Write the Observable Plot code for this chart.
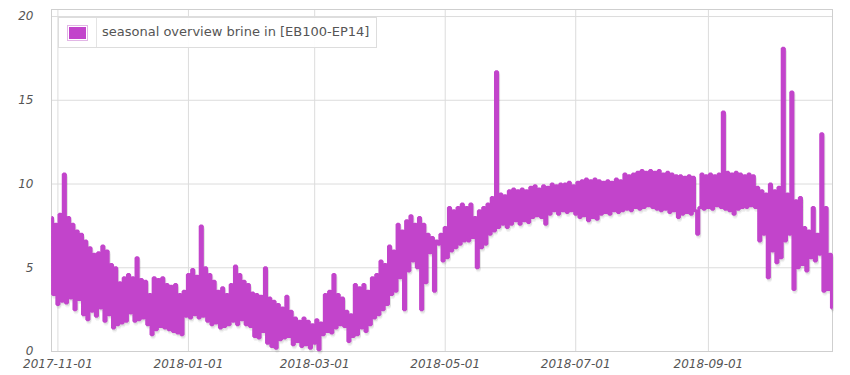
<!DOCTYPE html>
<html><head><meta charset="utf-8">
<script src="https://cdn.jsdelivr.net/npm/d3@7"></script>
<script src="https://cdn.jsdelivr.net/npm/@observablehq/plot@0.6"></script>
<style>
body{margin:0;background:#fff;}
#wrap{position:relative;width:850px;height:375px;}
#legend{position:absolute;left:58px;top:17px;width:319px;height:31px;border:1px solid #ddd;background:rgba(255,255,255,0.92);box-sizing:border-box;font-family:"DejaVu Sans",Verdana,sans-serif;font-size:13px;color:#555;}
#legend .sw{position:absolute;left:8px;top:7px;width:21px;height:16px;border:1px solid #e2b6e6;box-sizing:border-box;padding:1px;}
#legend .sw div{width:100%;height:100%;}
#legend .sep{position:absolute;left:37px;top:0;width:1px;height:100%;background:#e4e4e4;}
#legend .tx{position:absolute;left:43px;top:6px;white-space:nowrap;}
</style></head><body><div id="wrap"></div>
<script>
const seriesName = "seasonal overview brine in [EB100-EP14]";
const seriesColor = "#c244cb";
const startDate = "2017-10-29";
const endDate = "2018-10-29";
// daily readings from 2017-10-29
const values = [
8.0,3.4,7.6,2.8,8.2,3.0,10.6,2.9,8.0,3.2,
7.6,2.5,7.2,3.1,7.0,2.2,6.6,1.9,6.2,2.4,
5.8,2.1,5.9,2.6,6.3,1.8,6.0,2.2,5.2,1.4,
5.0,1.6,4.1,1.7,4.4,1.8,4.6,2.3,4.4,1.8,
5.6,1.9,4.3,2.0,4.2,1.6,3.4,1.0,4.4,1.3,
4.3,1.5,4.4,1.4,4.0,1.3,3.9,1.2,4.0,1.1,
3.4,1.0,3.6,2.1,4.6,2.0,4.9,2.2,4.5,2.0,
7.5,2.1,5.0,1.8,4.6,1.6,4.2,1.7,3.6,1.4,
3.8,1.5,3.4,1.6,4.0,1.8,5.1,1.6,4.6,1.9,
4.2,1.6,4.0,1.5,3.5,0.9,3.4,0.8,3.3,1.2,
5.0,0.5,3.2,0.3,3.0,0.2,2.8,0.7,2.6,0.8,
3.3,0.9,2.4,0.4,2.0,0.6,1.8,0.3,2.0,0.4,
1.8,0.2,1.6,0.5,1.9,0.1,1.7,1.0,3.4,1.2,
3.6,1.1,4.6,1.4,3.4,1.6,3.2,1.5,2.4,0.6,
2.2,0.9,4.0,1.0,3.8,1.4,4.0,1.2,3.6,1.6,
4.4,2.0,4.6,2.2,5.4,2.5,5.2,2.8,6.3,3.4,
6.0,3.6,7.6,4.4,7.2,2.5,7.8,4.8,8.1,5.4,
7.6,5.0,8.0,2.5,7.6,4.1,7.0,5.9,6.8,3.6,
6.6,6.4,7.0,5.4,7.4,5.6,8.6,6.0,8.4,6.2,
8.6,6.4,8.8,6.6,8.6,6.6,8.8,6.8,8.0,5.0,
8.4,6.2,8.6,6.4,8.8,7.0,9.2,7.2,16.7,7.4,
9.4,7.6,9.3,7.4,9.6,7.6,9.7,7.8,9.6,7.6,
9.7,7.8,9.6,7.7,9.8,8.0,9.9,8.1,9.7,8.0,
9.9,7.6,9.8,8.2,10.0,8.4,9.9,8.2,10.0,8.4,
10.0,8.3,10.1,8.4,9.9,8.2,10.1,8.0,10.2,8.1,
10.3,7.8,10.2,8.0,10.3,7.9,10.2,8.2,10.1,8.3,
10.2,8.2,10.1,8.4,10.3,8.3,10.2,8.4,10.6,8.5,
10.5,8.4,10.6,8.6,10.7,8.5,10.8,8.6,10.7,8.7,
10.8,8.6,10.7,8.5,10.8,8.4,10.6,8.5,10.7,8.3,
10.6,8.4,10.5,8.0,10.5,8.2,10.4,8.3,10.5,8.2,
10.4,8.4,7.0,8.6,10.6,8.5,10.5,8.6,10.6,8.5,
10.5,8.7,10.6,8.6,14.3,8.5,10.7,8.4,10.6,8.2,
10.7,8.5,10.6,8.6,10.5,8.6,10.6,8.7,10.5,8.6,
9.8,6.6,9.6,7.0,9.4,4.4,10.0,6.0,9.6,5.3,
9.8,5.6,18.1,6.6,9.4,7.0,15.5,3.7,9.0,5.0,
9.2,5.2,7.4,4.8,7.2,5.6,8.6,5.4,7.0,5.8,
13.0,3.6,8.6,3.7,5.8,2.6
];
const xTickLabels = ["2017-11-01","2018-01-01","2018-03-01","2018-05-01","2018-07-01","2018-09-01"];
const yTicks = [0,5,10,15,20];

const parse = s => new Date(s + "T00:00:00Z");
const t0 = parse(startDate);
const data = values.map((v, i) => ({date: new Date(t0.getTime() + i * 86400000), value: v}));
const xTicks = xTickLabels.map(parse);

const lineOpts = {x: "date", y: "value", curve: "step", strokeWidth: 3, strokeLinejoin: "miter", strokeLinecap: "butt"};
const chart = Plot.plot({
  width: 850, height: 375,
  marginLeft: 51, marginRight: 18, marginTop: 9, marginBottom: 24,
  style: {fontFamily: "'DejaVu Sans', Verdana, sans-serif", fontSize: "12px", fontStyle: "italic", color: "#555", background: "#fff"},
  x: {type: "utc", domain: [t0, parse(endDate)]},
  y: {domain: [0, 20.42]},
  marks: [
    Plot.gridX(xTicks, {stroke: "#dcdcdc", strokeOpacity: 1}),
    Plot.gridY(yTicks, {stroke: "#dcdcdc", strokeOpacity: 1}),
    Plot.frame({stroke: "#cfcfcf"}),
    Plot.lineY(data, {...lineOpts, stroke: "#000", strokeOpacity: 0.05, dx: 1, dy: 3}),
    Plot.lineY(data, {...lineOpts, stroke: "#000", strokeOpacity: 0.07, dx: 1, dy: 1.5}),
    Plot.lineY(data, {...lineOpts, stroke: seriesColor}),
    Plot.axisX({ticks: xTicks, tickFormat: d3.utcFormat("%Y-%m-%d"), tickSize: 0, tickPadding: 8, label: null}),
    Plot.axisY({ticks: yTicks, tickSize: 0, tickPadding: 18, label: null})
  ]
});
const wrap = document.getElementById("wrap");
wrap.appendChild(chart);
const lg = document.createElement("div");
lg.id = "legend";
lg.innerHTML = `<div class="sw"><div style="background:${seriesColor}"></div></div><div class="sep"></div><div class="tx"></div>`;
lg.querySelector(".tx").textContent = seriesName;
wrap.appendChild(lg);
</script></body></html>
